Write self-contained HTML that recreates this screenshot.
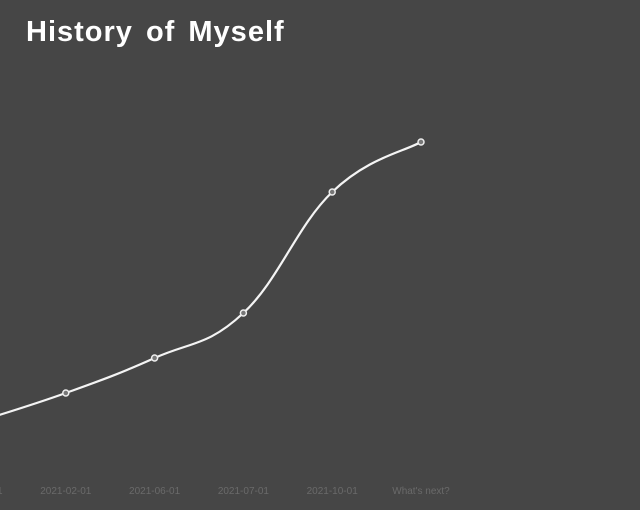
<!DOCTYPE html>
<html><head><meta charset="utf-8"><style>
html,body{margin:0;padding:0;background:#464646;}
#wrap{position:relative;width:640px;height:510px;overflow:hidden;background:#464646;}
h1{position:absolute;left:26px;top:16px;margin:0;font:bold 29px "Liberation Sans","DejaVu Sans",sans-serif;letter-spacing:1px;word-spacing:4px;color:#fff;}
</style></head><body>
<div id="wrap">
<h1>History of Myself</h1>
<svg id="chart" width="640" height="510" style="position:absolute;left:0;top:0"></svg>
</div>
<script>
const categories = ["2020-10-01","2021-02-01","2021-06-01","2021-07-01","2021-10-01","What's next?"];
const values = [14.5, 21.75, 30.5, 41.75, 72, 84.5];
const NS="http://www.w3.org/2000/svg";
const svg=document.getElementById('chart');
function xPos(i){return -23+i*88.8;}
function yPos(v){return 480-v*4;}
const pts=values.map((v,i)=>[xPos(i),yPos(v)]);
let d="M"+pts[0][0]+","+pts[0][1];
for(let i=0;i<pts.length-1;i++){
  const p0=pts[Math.max(0,i-1)],p1=pts[i],p2=pts[i+1],p3=pts[Math.min(pts.length-1,i+2)];
  const t=0.2;
  const c1=[p1[0]+(p2[0]-p0[0])*t,p1[1]+(p2[1]-p0[1])*t];
  const c2=[p2[0]-(p3[0]-p1[0])*t,p2[1]-(p3[1]-p1[1])*t];
  d+=` C${c1[0]},${c1[1]} ${c2[0]},${c2[1]} ${p2[0]},${p2[1]}`;
}
const path=document.createElementNS(NS,'path');
path.setAttribute('d',d);path.setAttribute('fill','none');
path.setAttribute('stroke','#f4f4f4');path.setAttribute('stroke-width','2.2');


svg.appendChild(path);
pts.forEach((p,i)=>{
  const c=document.createElementNS(NS,'circle');
  c.setAttribute('cx',p[0]);c.setAttribute('cy',p[1]);c.setAttribute('r','3');
  c.setAttribute('fill','#777');c.setAttribute('stroke','#eee');c.setAttribute('stroke-width','1.5');
  
  
  svg.appendChild(c);
  const t=document.createElementNS(NS,'text');
  t.setAttribute('x',p[0]);t.setAttribute('y','494');t.setAttribute('text-anchor','middle');
  t.setAttribute('font-family','Liberation Sans, sans-serif');t.setAttribute('font-size','10');
  t.setAttribute('fill','#6a6a6a');
  t.textContent=categories[i];
  
  
  svg.appendChild(t);
});
</script>
</body></html>
